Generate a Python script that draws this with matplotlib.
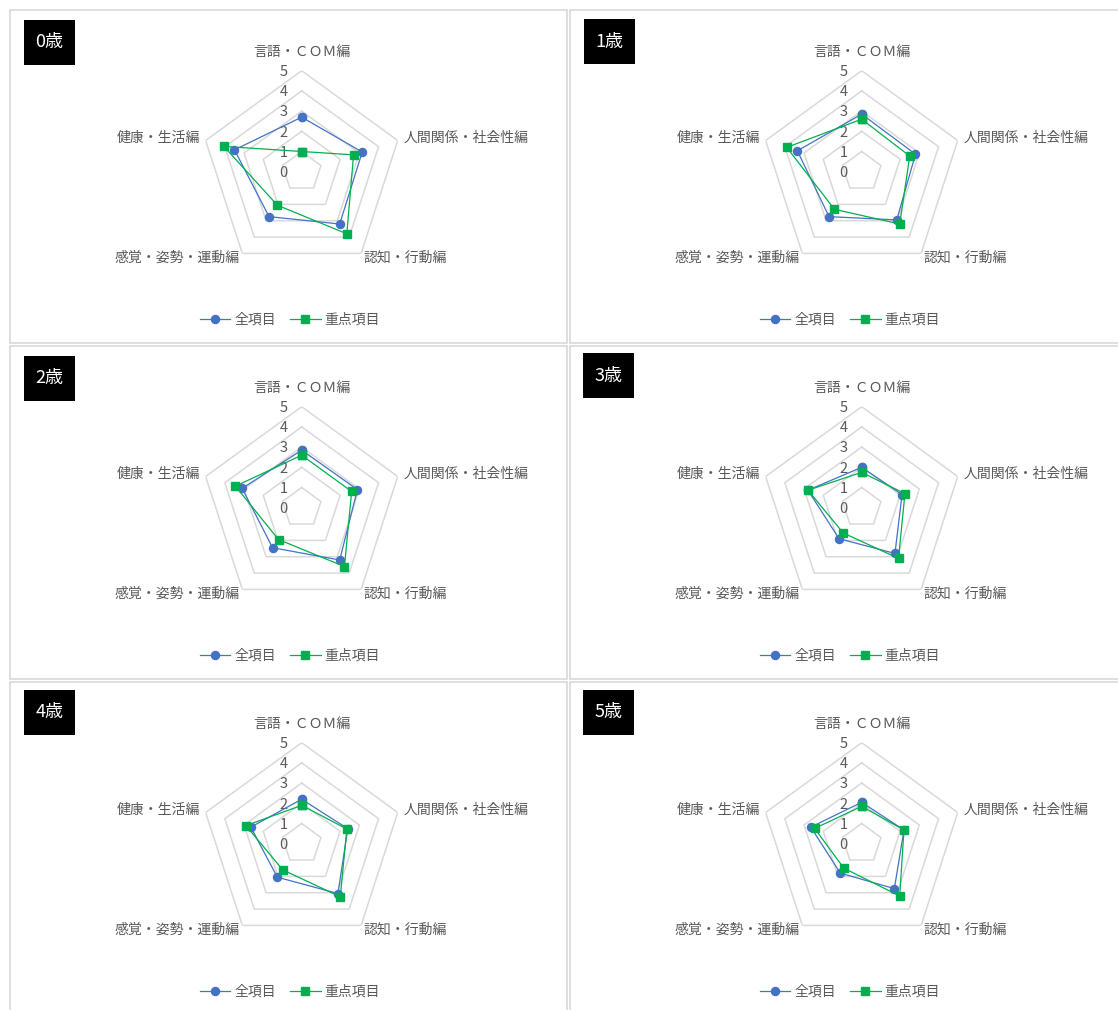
import matplotlib
matplotlib.use('Agg')
import matplotlib.pyplot as plt
import numpy as np
from matplotlib.lines import Line2D
from matplotlib.patches import Rectangle

plt.rcParams['font.family'] = ['Noto Sans CJK JP', 'DejaVu Sans']

# ---------------- data ----------------
ages = ['0歳', '1歳', '2歳', '3歳', '4歳', '5歳']
categories = ['言語・ＣＯＭ編', '人間関係・社会性編', '認知・行動編', '感覚・姿勢・運動編', '健康・生活編']
series_names = ['全項目', '重点項目']
all_items = [
    [2.70, 3.15, 3.20, 2.75, 3.50],
    [2.85, 2.80, 2.95, 2.75, 3.35],
    [2.85, 2.90, 3.20, 2.45, 3.10],
    [2.00, 2.10, 2.80, 1.90, 2.80],
    [2.20, 2.40, 3.05, 2.05, 2.65],
    [2.05, 2.20, 2.75, 1.80, 2.65],
]
key_items = [
    [1.00, 2.70, 3.80, 2.05, 4.05],
    [2.60, 2.50, 3.20, 2.30, 3.90],
    [2.60, 2.60, 3.60, 1.95, 3.45],
    [1.75, 2.25, 3.10, 1.55, 2.80],
    [1.90, 2.35, 3.25, 1.60, 2.90],
    [1.85, 2.20, 3.20, 1.50, 2.45],
]
tick_values = [0, 1, 2, 3, 4, 5]

# ---------------- layout ----------------
W, H = 1118, 1010
fig = plt.figure(figsize=(W / 100, H / 100), dpi=100)

BLUE = '#4472C4'
GREEN = '#00B050'
GRID = '#d9d9d9'
TXT = '#595959'

col_dx = [0, 560]
row_dy = [0, 336, 672]
cx0, cy0, R = 301.7, 171.7, 101.0
box_pos = [(24, 20), (584, 19), (24, 356), (583, 353), (24, 690), (583, 690)]
box_w, box_h = 51, 45

# category label placement: (ha, va, dx_pt, dy_pt)
cat_place = [
    ('center', 'center', 0, 13.5),
    ('left', 'center', 4, 2),
    ('left', 'center', 2, -3),
    ('right', 'center', -2, -3),
    ('right', 'center', -4, 2),
]

angles = np.arange(len(categories)) * 2 * np.pi / len(categories)
closed = np.append(angles, angles[0])

for idx, age in enumerate(ages):
    r, c = divmod(idx, 2)
    ox, oy = col_dx[c], row_dy[r]

    # panel frame
    fig.add_artist(Rectangle(((10 + ox) / W, 1 - (343 + oy) / H), 557 / W, 333 / H,
                             transform=fig.transFigure, facecolor='white',
                             edgecolor=GRID, lw=1.2, zorder=0))

    ax = fig.add_axes([(cx0 + ox - R) / W, 1 - (cy0 + oy + R) / H, 2 * R / W, 2 * R / H],
                      projection='polar')
    ax.set_theta_offset(np.pi / 2)
    ax.set_theta_direction(-1)
    ax.set_ylim(0, 5)
    ax.grid(False)
    ax.spines['polar'].set_visible(False)
    ax.set_xticks([])
    ax.set_yticks([])
    ax.patch.set_alpha(0)

    for k in tick_values[1:]:
        ax.plot(closed, [k] * len(closed), color=GRID, lw=1.1, zorder=1)
    for k in tick_values:
        ax.annotate(str(k), xy=(0, k), xytext=(-10, -1), textcoords='offset points',
                    ha='right', va='center', fontsize=10.5, color=TXT)

    for lab, ang, (ha, va, dx, dy) in zip(categories, angles, cat_place):
        ax.annotate(lab, xy=(ang, 5), xytext=(dx, dy), textcoords='offset points',
                    ha=ha, va=va, fontsize=10, color=TXT, annotation_clip=False)

    a = all_items[idx]
    k_ = key_items[idx]
    ax.plot(closed, a + [a[0]], color=BLUE, lw=0.9, marker='o', ms=5.8, zorder=3, clip_on=False)
    ax.plot(closed, k_ + [k_[0]], color=GREEN, lw=0.9, marker='s', ms=5.2, zorder=4, clip_on=False)

    # age box
    bx, by = box_pos[idx]
    fig.add_artist(Rectangle((bx / W, 1 - (by + box_h) / H), box_w / W, box_h / H,
                             transform=fig.transFigure, facecolor='black', edgecolor='none', zorder=5))
    fig.text((bx + box_w / 2) / W, 1 - (by + box_h / 2) / H, age, color='white',
             fontsize=13, ha='center', va='center', zorder=6)

    handles = [Line2D([], [], color=BLUE, lw=0.9, marker='o', ms=5.8),
               Line2D([], [], color=GREEN, lw=0.9, marker='s', ms=5.2)]
    fig.legend(handles, series_names, loc='center',
               bbox_to_anchor=((290 + ox) / W, 1 - (320 + oy) / H),
               ncol=2, frameon=False, fontsize=10, labelcolor=TXT,
               handlelength=2.2, handletextpad=0.3, columnspacing=1.0)

fig.savefig('out.png', dpi=100)
